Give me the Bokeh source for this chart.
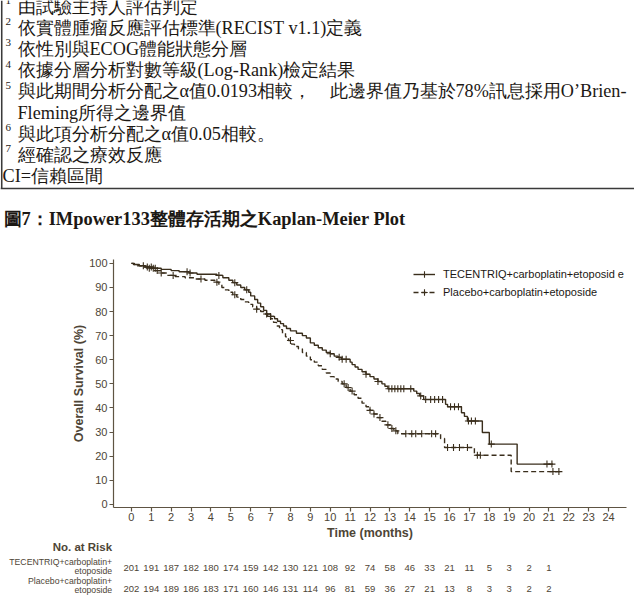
import numpy as np
from bokeh.plotting import figure
from bokeh.models import Range1d, FixedTicker, Legend, LegendItem
from bokeh.layouts import column
from bokeh.embed import file_html
from bokeh.resources import INLINE
from bokeh.core.properties import value

# ---------------- data ----------------
footnote_marks = ["1", "2", "3", "4", "5", "", "6", "7", ""]
footnote_lines = [
    "由試驗主持人評估判定",
    "依實體腫瘤反應評估標準(RECIST v1.1)定義",
    "依性別與ECOG體能狀態分層",
    "依據分層分析對數等級(Log-Rank)檢定結果",
    "與此期間分析分配之α值0.0193相較，",
    "Fleming所得之邊界值",
    "與此項分析分配之α值0.05相較。",
    "經確認之療效反應",
    "CI=信賴區間",
]
footnote_line5_tail = "此邊界值乃基於78%訊息採用O’Brien-"
figure_title = "圖7：IMpower133整體存活期之Kaplan-Meier Plot"

series_names = ["TECENTRIQ+carboplatin+etoposid e", "Placebo+carboplatin+etoposide"]
risk_title = "No. at Risk"
risk_row_line1 = ["TECENTRIQ+carboplatin+", "Placebo+carboplatin+"]
risk_row_line2 = ["etoposide", "etoposide"]
x_axis_title = "Time (months)"
y_axis_title = "Overall Survival (%)"

# TECENTRIQ arm: step times (months) and survival (%) after each step
atezo_time = [0, 0.15, 0.4, 0.7, 1.1, 1.5, 2.0, 2.4, 2.9, 3.3, 4.3, 4.6, 4.9, 5.1, 5.3,
              5.5, 5.7, 5.9, 6.0, 6.2, 6.35, 6.5, 6.65, 6.8, 7.0, 7.2, 7.35, 7.5, 7.65,
              7.8, 8.0, 8.3, 8.6, 8.8, 9.0, 9.2, 9.4, 9.6, 9.8, 10.0, 10.2, 10.4, 10.55,
              11.0, 11.1, 11.25, 11.4, 11.6, 11.8, 12.0, 12.2, 12.4, 12.6, 12.75, 12.9,
              14.2, 14.35, 14.5, 14.7, 15.8, 15.9, 16.6, 16.75, 16.9, 17.65, 18.0, 19.4, 21.2]
atezo_surv = [100, 99.5, 99.0, 98.5, 98.0, 97.5, 97.0, 96.5, 96.0, 95.5, 95.0, 94.0, 93.0,
              92.0, 91.0, 90.0, 89.0, 88.0, 86.5, 85.0, 83.5, 82.0, 80.5, 79.0, 78.0, 77.0,
              76.0, 75.0, 74.0, 73.0, 72.0, 71.0, 70.0, 69.0, 67.0, 66.0, 65.0, 64.0, 63.0,
              62.5, 61.5, 61.0, 60.2, 59.0, 58.0, 57.0, 56.0, 55.0, 54.0, 53.0, 52.0, 51.0,
              50.0, 49.0, 48.0, 47.0, 46.0, 45.0, 43.5, 41.5, 40.5, 38.0, 36.5, 34.6, 29.8,
              25.0, 16.7, 16.7]
atezo_censor = [0.6, 0.8, 1.0, 1.2, 2.8, 2.95, 4.4, 5.2, 5.8, 7.0, 10.0, 10.45, 10.6,
                10.8, 11.8, 12.4, 12.95, 13.1, 13.25, 13.4, 13.55, 13.7, 14.05, 14.55,
                14.8, 15.05, 15.25, 15.45, 15.65, 16.05, 16.25, 16.45, 16.95, 17.1, 17.3,
                18.1, 20.9, 21.15]

# Placebo arm
placebo_time = [0, 0.1, 0.3, 0.6, 0.9, 1.2, 1.5, 1.8, 2.2, 2.7, 3.2, 3.7, 4.2, 4.4, 4.55,
                4.7, 4.9, 5.1, 5.3, 5.5, 5.7, 5.9, 6.1, 6.3, 6.5, 6.7, 6.85, 7.0, 7.15, 7.3,
                7.45, 7.6, 7.75, 7.9, 8.05, 8.2, 8.4, 8.6, 8.8, 9.0, 9.2, 9.4, 9.6, 9.8,
                10.0, 10.2, 10.4, 10.6, 10.8, 11.0, 11.2, 11.4, 11.6, 11.8, 12.0, 12.2, 12.4,
                12.6, 12.8, 13.0, 13.2, 13.4, 15.55, 15.75, 17.25, 19.1, 21.6]
placebo_surv = [100, 99.5, 99.0, 98.5, 98.0, 97.0, 96.0, 95.0, 94.5, 94.0, 93.5, 93.0, 92.2,
                91.0, 90.0, 89.0, 88.0, 87.0, 86.0, 85.0, 84.0, 83.0, 82.0, 81.0, 80.0, 79.0,
                78.0, 77.0, 75.5, 74.0, 72.5, 71.0, 69.5, 68.0, 66.5, 65.5, 64.5, 63.0, 61.5,
                60.0, 59.0, 57.5, 56.0, 54.5, 53.0, 52.0, 51.0, 50.0, 48.5, 47.0, 45.5, 44.0,
                42.0, 40.5, 39.0, 37.5, 36.0, 34.5, 33.0, 31.5, 30.5, 29.3, 27.3, 23.6, 20.4,
                13.6, 13.6]
placebo_censor = [0.9, 1.1, 1.3, 1.5, 2.1, 3.5, 4.3, 5.2, 6.3, 6.8, 8.0, 10.7, 10.9, 11.1,
                  12.0, 12.2, 12.5, 12.9, 13.1, 13.3, 13.8, 14.1, 14.3, 14.6, 15.1, 15.3,
                  15.9, 16.2, 16.5, 16.9, 17.4, 17.55, 21.2, 21.5]

risk_months = list(range(22))
atezo_risk = [201, 191, 187, 182, 180, 174, 159, 142, 130, 121, 108, 92, 74, 58, 46, 33, 21,
              11, 5, 3, 2, 1]
placebo_risk = [202, 194, 189, 186, 183, 171, 160, 146, 131, 114, 96, 81, 59, 36, 27, 21, 13,
                8, 3, 3, 2, 2]

x_ticks = list(range(0, 25))
y_ticks = list(range(0, 101, 10))

# ---------------- styles / layout ----------------
TEXT_DARK = "#1c1814"
CURVE = "#3a2e1c"
AXIS = "#5e5443"
TICK_TXT = "#4e4536"
SERIF = value("Liberation Serif")
SANS = "Liberation Sans"
W = 634
TOP_H, CHART_H, RISK_H = 250, 292, 61
X0, X1 = -0.9, 24.9
BORDER_L, BORDER_R = 113, 8
PX_PER_MONTH = (W - BORDER_L - BORDER_R) / (X1 - X0)


def blank(fig):
    fig.axis.visible = False
    fig.grid.visible = False
    return fig


# ---------------- top: footnote box + title ----------------
top = blank(figure(width=W, height=TOP_H, x_range=Range1d(0, W), y_range=Range1d(TOP_H, 0),
                   output_backend="svg", toolbar_location=None, min_border=0,
                   min_border_left=0, min_border_right=0, min_border_top=0,
                   min_border_bottom=0, outline_line_color=None, frame_align=False))

line_y = [6 + 21.2 * i for i in range(len(footnote_lines))]
line_x = [17, 17, 17, 17, 17, 17, 17, 17, 2]
FOOT_STYLE = dict(text_font=SERIF, text_font_size="18.2px", text_baseline="middle",
                  text_align="left", text_color=TEXT_DARK)
for i, line in enumerate(footnote_lines):
    top.text(x=[line_x[i]], y=[line_y[i]], text=[line], **FOOT_STYLE)
top.text(x=[329], y=[line_y[4]], text=[footnote_line5_tail], **FOOT_STYLE)
top.text(x=[5] * len(footnote_marks), y=[v - 6 for v in line_y], text=footnote_marks,
         text_font=SERIF, text_font_size="11px", text_baseline="middle",
         text_align="left", text_color=TEXT_DARK)
box_bottom = 188
top.segment(x0=[1.2, 0], y0=[0, box_bottom], x1=[1.2, W], y1=[box_bottom, box_bottom],
            line_color="#3a3a3a", line_width=1.6)
top.text(x=[3], y=[218], text=[figure_title], text_font=SERIF,
         text_font_style="bold", text_font_size="18.4px", text_baseline="middle",
         text_color=TEXT_DARK)

# ---------------- chart ----------------
p = figure(width=W, height=CHART_H, x_range=Range1d(X0, X1), y_range=Range1d(-1.3, 101.6),
           output_backend="svg", toolbar_location=None,
           min_border_left=BORDER_L, min_border_right=BORDER_R, min_border_top=9,
           min_border_bottom=35, outline_line_color=None, frame_align=False)
p.grid.visible = False

for ax in (p.xaxis[0], p.yaxis[0]):
    ax.axis_line_color = AXIS
    ax.axis_line_width = 1.2
    ax.major_tick_line_color = AXIS
    ax.major_tick_line_width = 1.2
    ax.major_tick_in = 0
    ax.major_tick_out = 4
    ax.minor_tick_line_color = None
    ax.major_label_text_font = SANS
    ax.major_label_text_font_size = "11px"
    ax.major_label_text_color = TICK_TXT
    ax.axis_label_text_font = SANS
    ax.axis_label_text_font_size = "12.5px"
    ax.axis_label_text_font_style = "bold"
    ax.axis_label_text_color = TICK_TXT

p.xaxis.ticker = FixedTicker(ticks=x_ticks)
p.yaxis.ticker = FixedTicker(ticks=y_ticks)
p.xaxis.axis_label = x_axis_title
p.yaxis.axis_label = y_axis_title
p.xaxis.major_label_standoff = 1
p.xaxis.axis_label_standoff = 2
p.yaxis.major_label_standoff = 2
p.yaxis.axis_label_standoff = 0


def censor_y(times, surv, cens):
    t = np.asarray(times)
    s = np.asarray(surv)
    idx = np.searchsorted(t, np.asarray(cens), side="right") - 1
    return s[idx]


l1 = p.step(atezo_time, atezo_surv, mode="after", line_color=CURVE, line_width=1.4)
c1 = p.scatter(atezo_censor, censor_y(atezo_time, atezo_surv, atezo_censor), marker="cross",
               size=7, line_color=CURVE, line_width=1.1)
l2 = p.step(placebo_time, placebo_surv, mode="after", line_color=CURVE, line_width=1.4,
            line_dash="5 3")
c2 = p.scatter(placebo_censor, censor_y(placebo_time, placebo_surv, placebo_censor),
               marker="cross", size=7, line_color=CURVE, line_width=1.1)

legend = Legend(items=[LegendItem(label=series_names[0], renderers=[l1, c1]),
                       LegendItem(label=series_names[1], renderers=[l2, c2])],
                location=(300, 207), padding=0, margin=0, border_line_color=None,
                background_fill_alpha=0, glyph_width=22, glyph_height=16, label_height=16,
                label_standoff=8, spacing=2, label_text_font=SANS,
                label_text_font_size="11px", label_text_color=TEXT_DARK)
p.add_layout(legend)

# ---------------- number at risk table ----------------
risk_x0 = X0 - BORDER_L / PX_PER_MONTH
risk_x1 = X1 + BORDER_R / PX_PER_MONTH
risk = blank(figure(width=W, height=RISK_H, x_range=Range1d(risk_x0, risk_x1),
                    y_range=Range1d(RISK_H, 0), output_backend="svg",
                    toolbar_location=None, min_border=0, outline_line_color=None,
                    frame_align=False))
row_num_y = [25, 46]
row_lab_y = [19.5, 38.5]
label_x = -0.97
for i, counts in enumerate([atezo_risk, placebo_risk]):
    risk.text(x=risk_months, y=[row_num_y[i]] * len(risk_months),
              text=[str(v) for v in counts], text_align="center", text_baseline="middle",
              text_font=value(SANS), text_font_size="9.5px", text_color=TICK_TXT)
risk.text(x=[label_x], y=[4], text=[risk_title], text_align="right", text_baseline="middle",
          text_font=value(SANS), text_font_size="11.5px", text_font_style="bold",
          text_color=TICK_TXT)
risk.text(x=[label_x] * 4,
          y=[row_lab_y[0], row_lab_y[0] + 9, row_lab_y[1], row_lab_y[1] + 9],
          text=[risk_row_line1[0], risk_row_line2[0], risk_row_line1[1], risk_row_line2[1]],
          text_align="right", text_baseline="middle", text_font=value(SANS),
          text_font_size="8.7px", text_color=TICK_TXT)

layout = column(top, p, risk, spacing=0)
open("out.html", "w").write(file_html(layout, INLINE))
